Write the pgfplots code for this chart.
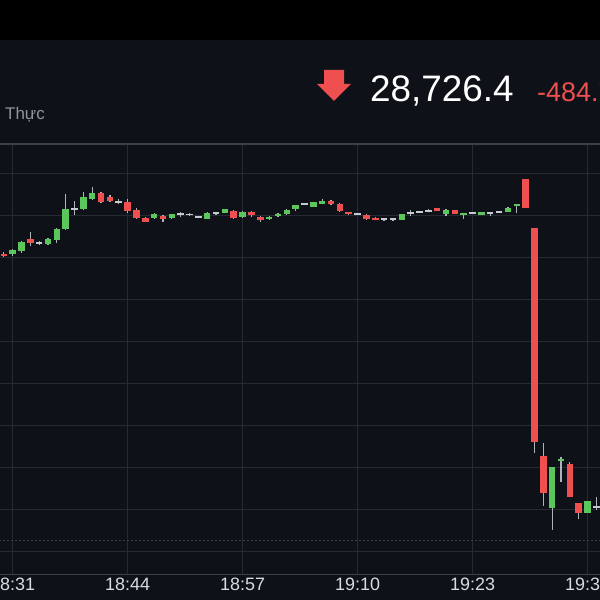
\documentclass[border=0pt]{standalone}
\usepackage{pgfplots}
\pgfplotsset{compat=1.18}
\usepackage{pgfplotstable}
\usepackage{fontspec}
\setmainfont{Liberation Sans}
\definecolor{bg}{HTML}{0E1218}
\definecolor{gridc}{HTML}{262B33}
\definecolor{edgec}{HTML}{3A404A}
\definecolor{cgreen}{HTML}{5BC65B}
\definecolor{cred}{HTML}{EF4F4F}
\definecolor{cgray}{HTML}{C5C9D0}
\definecolor{wick}{HTML}{AEB3BA}
\definecolor{labelc}{HTML}{D8DCE2}
\definecolor{subc}{HTML}{8E949C}

% t = minutes after 18:31 ; o h l c
\pgfplotstableread{
t o h l c
0 28977 28982 28975 28981
1 28980 28990 28978 28989
4 28987 28993 28986 28992
5 28991 29003 28988 29002
6 29002 29037 29001 29022
8 29022 29039 29021 29034
9 29032 29044 29031 29038
16 29013 29018 29012 29017
18 29013 29017 29012 29016.5
22 29012 29018.5 29011.5 29018
24 29018 29022 29017.5 29022
26 29014 29020 29013 29019
29 29012 29015 29011 29014
30 29015 29018 29014 29017
31 29017 29021.5 29016 29021
32 29022 29026 29020 29026
34 29024 29029 29024 29029
35 29027 29032 29026.5 29030
44 29011 29017 29010.5 29017
49 29017 29021.5 29015 29021
51 29016 29018 29012 29018
53 29016 29019 29015.5 29019
56 29019 29024 29018.5 29023
57 29025 29027 29018 29027
61 28723 28764 28701 28764
62 28770 28774 28749 28772
65 28718 28730 28718 28730
}\greentab

\pgfplotstableread{
t o h l c
-1 28977 28979 28974 28975
2 28992 28999 28985 28988
10 29038 29039 29028 29029
11 29034 29036 29029 29030
13 29029 29032 29018 29020
14 29021 29023 29012 29013
15 29013 29014 29008.5 29009
17 29015 29016 29009 29012
25 29020 29021 29012 29012.5
27 29019 29020 29014 29015.5
28 29014 29015 29009 29011
36 29030 29030.5 29026 29027
37 29027 29027.5 29019 29020
38 29019 29019 29016 29017
40 29016 29016.5 29011 29012
41 29013 29013.5 29010.5 29011
48 29023 29023 29019.5 29020
50 29021 29021 29016.5 29017
58 29052 29052 29023 29023
59 29003 29003 28778 28789
60 28775 28788 28725 28738
63 28767 28769 28734 28734
64 28728 28728 28712 28718
}\redtab

\pgfplotstableread{
t o h l c
3 28988 28990 28986 28988
7 29022 29030 29016 29022
12 29029 29032 29027 29029
19 29017 29019 29014 29017
20 29016.5 29018 29015 29016.5
21 29014 29015 29012.5 29014
23 29018 29018.5 29016 29018
33 29027 29027.5 29026 29027
39 29017 29017.5 29016 29017
42 29012 29013 29010 29012
43 29012 29013 29010 29012
45 29018 29021 29015 29018
46 29019 29020 29018.5 29019
47 29020 29022 29018.5 29020
52 29018 29018 29017 29018
54 29018 29018.5 29014.5 29018
55 29019 29020 29017.5 29019
66 28724 28734 28721 28724
}\dojitab

\begin{document}
\begin{tikzpicture}
\useasboundingbox (0bp,0bp) rectangle (600bp,600bp);
\clip (0bp,0bp) rectangle (600bp,600bp);
\fill[bg] (0bp,0bp) rectangle (600bp,560bp);
\fill[black] (0bp,560bp) rectangle (600bp,600bp);

\begin{axis}[
  at={(0bp,25bp)}, anchor=south west,
  width=600bp, height=431bp, scale only axis,
  xmin=-1.425, xmax=66.41, ymin=28656, ymax=29087,
  axis line style={draw=none},
  scaled y ticks=false,
  xtick={0,13,26,39,52,65},
  xticklabels={18:31,18:44,18:57,19:10,19:23,19:36},
  ytick={28680,28722,28764,28806,28848,28890,28932,28974,29016,29058},
  yticklabels={},
  grid=major,
  major grid style={gridc, line width=0.9bp},
  major tick length=0pt,
  xticklabel style={font=\fontsize{18}{18}\selectfont, text=labelc, anchor=north, inner sep=0pt, yshift=-3bp},
]
\addplot[edgec, dash pattern=on 2bp off 2bp, line width=0.9bp] coordinates {(-2,28691) (67,28691)};

% wicks (low to high)
\addplot[wick, line width=1.2bp, mark=none, quiver={u=0, v=\thisrow{h}-\thisrow{l}, every arrow/.append style={arrows=-}}] table[x=t, y=l] {\greentab};
\addplot[wick, line width=1.2bp, mark=none, quiver={u=0, v=\thisrow{h}-\thisrow{l}, every arrow/.append style={arrows=-}}] table[x=t, y=l] {\redtab};
\addplot[wick, line width=1.2bp, mark=none, quiver={u=0, v=\thisrow{h}-\thisrow{l}, every arrow/.append style={arrows=-}}] table[x=t, y=l] {\dojitab};

% bodies (open to close)
\addplot[cgreen, line width=6.5bp, mark=none, quiver={u=0, v=\thisrow{c}-\thisrow{o}, every arrow/.append style={arrows=-}}] table[x=t, y=o] {\greentab};
\addplot[cred, line width=6.5bp, mark=none, quiver={u=0, v=\thisrow{c}-\thisrow{o}, every arrow/.append style={arrows=-}}] table[x=t, y=o] {\redtab};
\addplot[only marks, mark=-, mark size=3.25bp, mark options={cgray, line width=1.6bp}] table[x=t, y=c] {\dojitab};

\draw[edgec, line width=1.2bp] (rel axis cs:0,1) -- (rel axis cs:1,1);
\draw[edgec, line width=1.4bp] (rel axis cs:0,0) -- (rel axis cs:1,0);
\end{axis}

% header
\node[anchor=base west, text=subc, font=\fontsize{17}{17}\selectfont, inner sep=0pt] at (5bp,480bp) {Thực};
\fill[cred] (324bp,530bp) -- (344bp,530bp) -- (344bp,516bp) -- (351bp,516bp) -- (334bp,499bp) -- (317bp,516bp) -- (324bp,516bp) -- cycle;
\node[anchor=base west, text=white, font=\fontsize{37}{37}\selectfont, inner sep=0pt] at (370bp,498bp) {28,726.4};
\node[anchor=base west, text=cred, font=\fontsize{27}{27}\selectfont, inner sep=0pt] at (537bp,498bp) {-484.7};
\end{tikzpicture}
\end{document}
